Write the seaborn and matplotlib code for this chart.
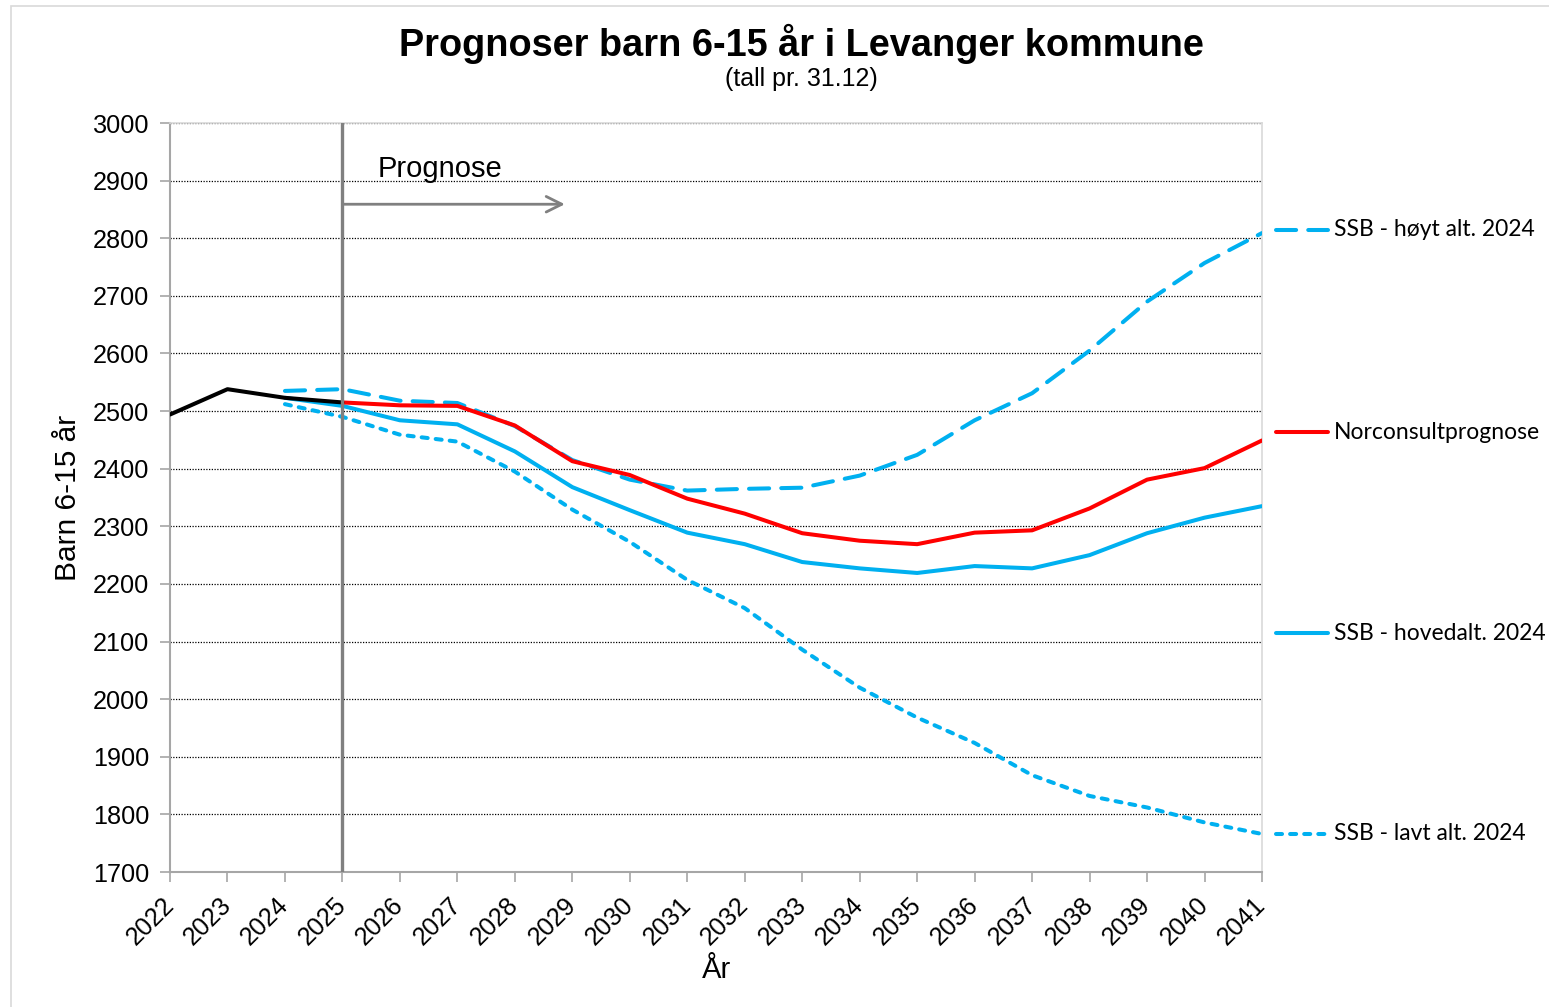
import matplotlib.pyplot as plt
import matplotlib.patches as mpatches
from matplotlib.lines import Line2D
import seaborn as sns

# Data
years = list(range(2022, 2042))
hist_years = years[:4]
hist_vals = [2494, 2538, 2523, 2515]
norc_years = years[3:]
norc_vals = [2515, 2510, 2509, 2475, 2413, 2389, 2348, 2322, 2288, 2275,
             2269, 2289, 2293, 2331, 2381, 2401, 2449]
ssb_years = years[2:]
ssb_main = [2523, 2509, 2484, 2477, 2430, 2368, 2328, 2289, 2269, 2238,
            2227, 2219, 2231, 2227, 2250, 2288, 2315, 2335]
ssb_high = [2535, 2538, 2518, 2514, 2474, 2415, 2381, 2362, 2365, 2367,
            2388, 2424, 2484, 2531, 2605, 2690, 2757, 2809]
ssb_low = [2512, 2490, 2459, 2447, 2395, 2329, 2273, 2207, 2158, 2086,
           2020, 1968, 1924, 1868, 1832, 1812, 1786, 1766]
yticks = list(range(1700, 3001, 100))

BLUE = "#00B0F0"
RED = "#FF0000"
GREY = "#808080"
LIGHT = "#D9D9D9"
LW = 2.9
HIGH_LS = (0, (5.0, 3.0))
LOW_LS = (0, (1.5, 2.0))

sns.set_style("white")
plt.rcParams["font.family"] = ["Liberation Sans", "DejaVu Sans"]
plt.rcParams["text.color"] = "black"
plt.rcParams["axes.labelcolor"] = "black"
plt.rcParams["xtick.color"] = "black"
plt.rcParams["ytick.color"] = "black"

W, H = 1549, 1007
fig = plt.figure(figsize=(W / 100, H / 100), dpi=100)
ax = fig.add_axes([170 / W, 1 - 872 / H, (1262 - 170) / W, (872 - 123) / H])

# chart area frame
fig.patches.append(mpatches.Rectangle((11 / W, -0.01), 1.0, 1.01 - 6 / H,
                                      transform=fig.transFigure, fill=False,
                                      edgecolor=LIGHT, lw=1.2))

sns.lineplot(x=ssb_years, y=ssb_low, ax=ax, color=BLUE, lw=LW,
             linestyle=LOW_LS, dash_capstyle="round", zorder=3)
sns.lineplot(x=ssb_years, y=ssb_high, ax=ax, color=BLUE, lw=LW,
             linestyle=HIGH_LS, dash_capstyle="round", zorder=3)
sns.lineplot(x=ssb_years, y=ssb_main, ax=ax, color=BLUE, lw=LW, zorder=3)
sns.lineplot(x=norc_years, y=norc_vals, ax=ax, color=RED, lw=LW, zorder=4)
sns.lineplot(x=hist_years, y=hist_vals, ax=ax, color="black", lw=LW, zorder=4)

ax.axvline(2025, color=GREY, lw=2.4, zorder=6)
ax.annotate("", xy=(2028.87, 2859), xytext=(2025, 2859),
            arrowprops=dict(arrowstyle="->", color=GREY, lw=2,
                            mutation_scale=28, shrinkA=0, shrinkB=0),
            zorder=6)
ax.text(2025.62, 2920, "Prognose", fontsize=21, va="center")

ax.set_xlim(2022, 2041)
ax.set_ylim(1700, 3000)
ax.set_xticks(years)
ax.set_yticks(yticks)
ax.set_xticklabels([str(y) for y in years], rotation=45, ha="right",
                   va="center", rotation_mode="anchor")
ax.yaxis.grid(True, linestyle=(0, (1, 1.2)), color="black", lw=0.9)
ax.set_axisbelow(True)
ax.tick_params(axis="both", direction="out", length=7, width=1.2,
               color="#A6A6A6", labelsize=18.2, labelcolor="black",
               bottom=True, left=True)
ax.tick_params(axis="x", pad=14)
ax.tick_params(axis="y", pad=8)

for side in ["left", "bottom"]:
    ax.spines[side].set_color("#A6A6A6")
    ax.spines[side].set_linewidth(1.5)
for side in ["top", "right"]:
    ax.spines[side].set_color(LIGHT)
    ax.spines[side].set_linewidth(1.2)

ax.set_ylabel("Barn 6-15 år", fontsize=21.5)
ax.yaxis.label.set_va("center")
ax.yaxis.set_label_coords((68 - 170) / 1092, 0.5)
ax.set_xlabel("År", fontsize=21)
ax.xaxis.label.set_va("center")
ax.xaxis.set_label_coords(0.5, (872 - 970) / 749)

fig.text(801 / W, 1 - 56 / H, "Prognoser barn 6-15 år i Levanger kommune",
         ha="center", va="baseline", fontsize=27.3, fontweight="bold")
fig.text(801 / W, 1 - 86 / H, "(tall pr. 31.12)", ha="center",
         va="baseline", fontsize=18)

# legend entries to the right of the plot
legend_items = [
    ("SSB - høyt alt. 2024", BLUE, HIGH_LS, 230),
    ("Norconsultprognose", RED, "-", 432),
    ("SSB - hovedalt. 2024", BLUE, "-", 633),
    ("SSB - lavt alt. 2024", BLUE, LOW_LS, 834),
]
for label, color, ls, ypx in legend_items:
    yf = 1 - ypx / H
    fig.add_artist(Line2D([1276 / W, 1328 / W], [yf, yf], color=color, lw=LW,
                          linestyle=ls, dash_capstyle="round",
                          transform=fig.transFigure))
    fig.text(1334 / W, yf, label, ha="left", va="center", fontsize=16.5,
             family=["Lato", "DejaVu Sans"])

fig.savefig("out.png", dpi=100)
